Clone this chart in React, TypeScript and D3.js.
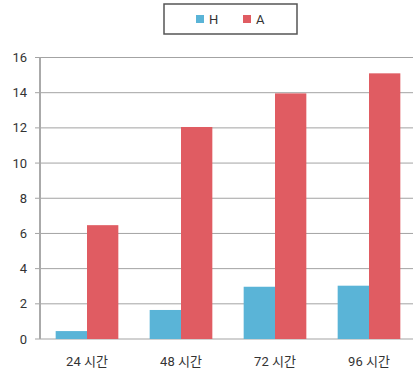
import React, { useRef, useEffect } from 'react';
import * as d3 from 'd3';

const categories = ['24 시간', '48 시간', '72 시간', '96 시간'];
const seriesNames = ['H', 'A'];
const hValues = [0.45, 1.65, 2.97, 3.03];
const aValues = [6.47, 12.05, 13.96, 15.1];
const yTicks = [0, 2, 4, 6, 8, 10, 12, 14, 16];
const colors = ['#5ab4d7', '#e05c62'];

const App = () => {
    const svgref = useRef<SVGSVGElement>(null);

    useEffect(() => {
        const svg = d3.select(svgref.current);
        svg.selectAll('*').remove();
        const font = 'Roboto, "Noto Sans CJK KR", sans-serif';

        const x = d3.scaleBand().domain(categories).range([40, 416]).padding(0);
        const inner = d3.scaleBand().domain(seriesNames).range([0, x.bandwidth()]).paddingInner(0).paddingOuter(0.5);
        const y = d3.scaleLinear().domain([0, 16]).range([339, 57.5]);

        // grid lines + tick stubs
        svg.append('g').selectAll('line').data(yTicks).join('line')
            .attr('x1', 35).attr('x2', 413)
            .attr('y1', d => y(d)).attr('y2', d => y(d))
            .attr('stroke', '#a3a3a3').attr('stroke-width', 1);

        svg.append('g').selectAll('text').data(yTicks).join('text')
            .attr('x', 27).attr('y', d => y(d) + 4.5)
            .attr('text-anchor', 'end')
            .attr('font-family', font).attr('font-size', 13).attr('fill', '#333')
            .text(d => d);

        const data = categories.map((c, i) => ({ c, vals: [hValues[i], aValues[i]] }));
        const groups = svg.append('g').selectAll('g').data(data).join('g')
            .attr('transform', d => `translate(${x(d.c)},0)`);
        groups.selectAll('rect').data(d => d.vals.map((v, j) => ({ k: seriesNames[j], v, j }))).join('rect')
            .attr('x', d => inner(d.k)!)
            .attr('width', inner.bandwidth())
            .attr('y', d => y(d.v))
            .attr('height', d => y(0) - y(d.v))
            .attr('fill', d => colors[d.j]);

        // y axis line
        svg.append('line').attr('x1', 40).attr('x2', 40).attr('y1', y(16)).attr('y2', y(0))
            .attr('stroke', '#aaa').attr('stroke-width', 2);

        svg.append('g').selectAll('text').data(categories).join('text')
            .attr('x', d => x(d)! + x.bandwidth() / 2).attr('y', 366)
            .attr('text-anchor', 'middle')
            .attr('font-family', font).attr('font-size', 13).attr('fill', '#333')
            .text(d => d);

        // legend
        const lg = svg.append('g');
        lg.append('rect').attr('x', 164).attr('y', 4).attr('width', 133).attr('height', 30)
            .attr('fill', '#fff').attr('stroke', '#555').attr('stroke-width', 1.5);
        const lx = [196, 243];
        seriesNames.forEach((s, i) => {
            lg.append('rect').attr('x', lx[i]).attr('y', 15).attr('width', 8).attr('height', 8).attr('fill', colors[i]);
            lg.append('text').attr('x', lx[i] + 13).attr('y', 24)
                .attr('font-family', font).attr('font-size', 13).attr('fill', '#333').text(s);
        });
    }, []);

    return (
        <svg ref={svgref} width={413} height={375} style={{ position: 'absolute', left: 0, top: 0 }} />
    );
};

export default App;
